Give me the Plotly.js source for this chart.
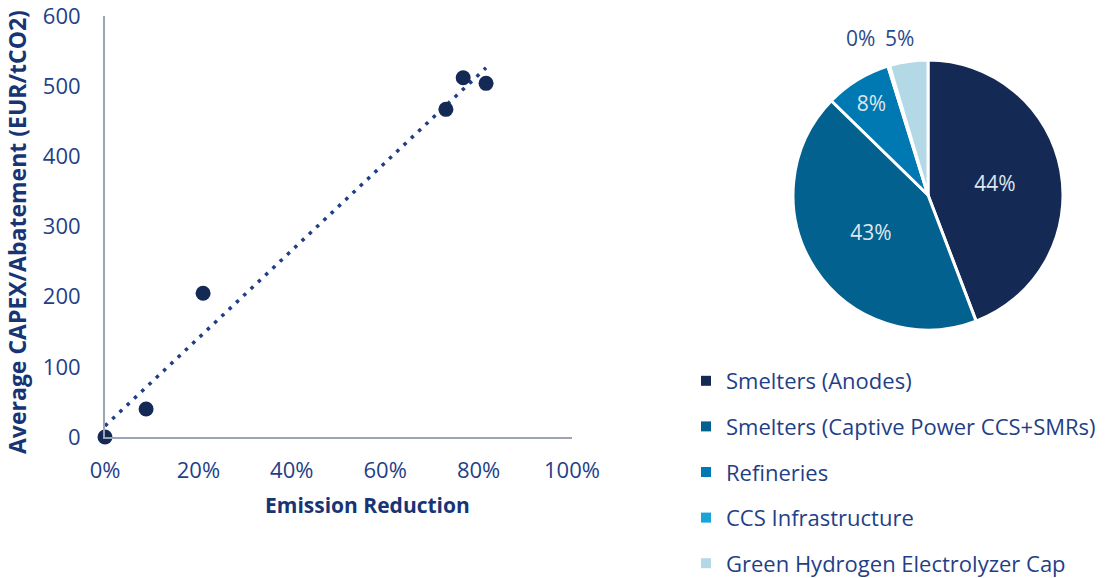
<!DOCTYPE html>
<html>
<head>
<meta charset="utf-8">
<script src="https://cdn.plot.ly/plotly-3.0.1.min.js"></script>
<style>html,body{margin:0;padding:0;background:#fff;overflow:hidden;}#chart{width:1110px;height:578px;}</style>
</head>
<body>
<div id="chart"></div>
<script>
// Scatter data: emission reduction (fraction) vs average CAPEX/abatement (EUR/tCO2)
const emissionReduction = [0.0, 0.088, 0.21, 0.73, 0.767, 0.816];
const capexPerAbatement = [0, 40, 205, 467, 512, 504];
const xTickVals = [0, 0.2, 0.4, 0.6, 0.8, 1.0];
const xTickText = ['0%', '20%', '40%', '60%', '80%', '100%'];
const yTickVals = [0, 100, 200, 300, 400, 500, 600];

// Pie data
const pieCategories = ['Smelters (Anodes)', 'Smelters (Captive Power CCS+SMRs)', 'Refineries', 'CCS Infrastructure', 'Green Hydrogen Electrolyzer Cap'];
const pieShares = [44.2, 43.1, 7.9, 0.2, 4.6];
const pieColors = ['#142a55', '#03618f', '#0079b2', '#1aa3d9', '#b3d8e6'];

// linear trendline fitted to the scatter data (least squares)
const n = emissionReduction.length;
const mx = emissionReduction.reduce((a, b) => a + b, 0) / n;
const my = capexPerAbatement.reduce((a, b) => a + b, 0) / n;
let sxy = 0, sxx = 0;
for (let i = 0; i < n; i++) {
  sxy += (emissionReduction[i] - mx) * (capexPerAbatement[i] - my);
  sxx += (emissionReduction[i] - mx) ** 2;
}
const slope = sxy / sxx, intercept = my - slope * mx;
const tx = [Math.min(...emissionReduction), Math.max(...emissionReduction)];
const ty = tx.map(v => intercept + slope * v);

const total = pieShares.reduce((a, b) => a + b, 0);
const pct = v => Math.round(v / total * 100) + '%';

const FONT = 'Open Sans, Lato, sans-serif';
const tickColor = '#1f3f87';
const titleColor = '#173475';
const outColor = '#2b4a8c';

const traces = [
  {
    type: 'scatter', mode: 'lines', x: tx, y: ty, showlegend: false, hoverinfo: 'skip',
    line: {color: '#1f3f87', width: 3.5, dash: '3.5px,6.5px'}, cliponaxis: false
  },
  {
    type: 'scatter', mode: 'markers', x: emissionReduction, y: capexPerAbatement, showlegend: false,
    marker: {color: '#142a55', size: 15}, cliponaxis: false
  },
  {
    type: 'pie', labels: pieCategories, values: pieShares, sort: false, direction: 'clockwise', rotation: 0,
    marker: {colors: pieColors, line: {color: '#ffffff', width: 3}},
    texttemplate: '%{percent:.0%}', textinfo: 'percent',
    textposition: ['inside', 'inside', 'inside', 'none', 'none'],
    insidetextorientation: 'horizontal',
    insidetextfont: {color: '#dfe6ee', size: 21, family: FONT},
    domain: {x: [0.7144, 0.9577], y: [0.4291, 0.8962]},
    showlegend: false, automargin: false
  }
];

// legend entries built from the pie categories and colours
pieCategories.forEach((c, i) => {
  traces.push({
    type: 'scatter', mode: 'markers', x: [null], y: [null], name: c, legendgroup: 'g' + i,
    marker: {symbol: 'square', size: 10, color: pieColors[i]}, showlegend: true, hoverinfo: 'skip'
  });
});

const layout = {
  width: 1110, height: 578,
  margin: {l: 0, r: 0, t: 0, b: 0, autoexpand: false},
  paper_bgcolor: '#ffffff', plot_bgcolor: '#ffffff',
  font: {family: FONT, size: 21, color: tickColor},
  xaxis: {
    domain: [0.0946, 0.5153], range: [0, 1], tickvals: xTickVals, ticktext: xTickText,
    showgrid: false, zeroline: false, showline: true, linecolor: '#9ea3b8', linewidth: 2,
    ticks: '', ticklabelstandoff: 13, ticklabeloverflow: 'allow',
    tickfont: {size: 22, color: tickColor, family: FONT}, fixedrange: true
  },
  yaxis: {
    domain: [0.2439, 0.9723], range: [0, 600], tickvals: yTickVals,
    showgrid: false, zeroline: false, showline: true, linecolor: '#9ea3b8', linewidth: 2,
    ticks: '', ticklabelstandoff: 18, ticklabeloverflow: 'allow',
    tickfont: {size: 22, color: tickColor, family: FONT}, fixedrange: true
  },
  legend: {
    x: 686 / 1110, xanchor: 'left', y: -6 / 578, yanchor: 'bottom',
    traceorder: 'grouped', tracegroupgap: 14,
    font: {size: 22, color: tickColor, family: FONT}, bgcolor: 'rgba(0,0,0,0)'
  },
  annotations: [
    {text: '<b>Emission Reduction</b>', xref: 'paper', yref: 'paper', x: 367 / 1110, y: 1 - 505 / 578,
     xanchor: 'center', yanchor: 'middle', showarrow: false, font: {size: 21, color: titleColor, family: FONT}},
    {text: '<b>Average CAPEX/Abatement (EUR/tCO2)</b>', xref: 'paper', yref: 'paper', x: 17 / 1110, y: 1 - 232 / 578,
     xanchor: 'center', yanchor: 'middle', textangle: -90, showarrow: false, font: {size: 23, color: titleColor, family: FONT}},
    {text: pct(pieShares[3]), xref: 'paper', yref: 'paper', x: 860 / 1110, y: 1 - 38 / 578,
     xanchor: 'center', yanchor: 'middle', showarrow: false, font: {size: 21, color: outColor, family: FONT}},
    {text: pct(pieShares[4]), xref: 'paper', yref: 'paper', x: 899 / 1110, y: 1 - 38 / 578,
     xanchor: 'center', yanchor: 'middle', showarrow: false, font: {size: 21, color: outColor, family: FONT}}
  ],
  showlegend: true
};

Plotly.newPlot('chart', traces, layout, {displayModeBar: false, staticPlot: true});
</script>
</body>
</html>
